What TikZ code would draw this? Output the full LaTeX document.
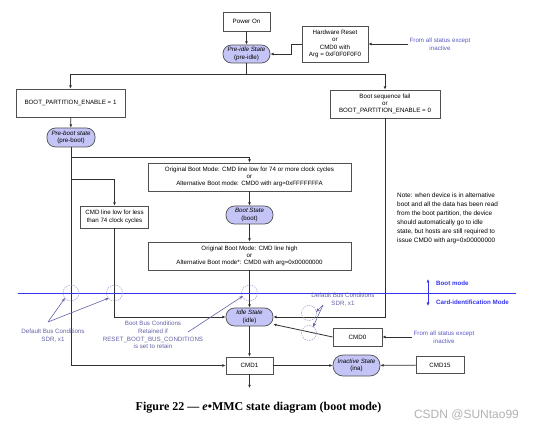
\documentclass[tikz,border=0pt]{standalone}
\usepackage{fontspec}
\setmainfont{Liberation Sans}
\newfontfamily\capfont[Ligatures=TeX]{Liberation Serif}
\usetikzlibrary{arrows.meta}
\definecolor{stfill}{HTML}{C4C4F6}
\definecolor{edgec}{HTML}{505050}
\definecolor{linec}{HTML}{303030}
\definecolor{annc}{HTML}{6464A8}
\definecolor{circc}{HTML}{9A9ACC}
\definecolor{bluel}{HTML}{3535F5}
\definecolor{fromc}{HTML}{5A5AC8}
\tikzset{
  sfont/.style={font=\fontsize{6.2}{7.3}\selectfont},
  box/.style={draw=edgec, fill=white, line width=0.7pt, sfont, align=center, inner sep=0pt},
  stt/.style={draw=edgec, fill=stfill, line width=0.7pt, rounded corners=8.5pt, sfont, align=center, inner sep=0pt},
  arr/.style={draw=linec, line width=0.8pt, -{Latex[length=3.2pt,width=2.8pt]}},
  ln/.style={draw=linec, line width=0.8pt},
  ann/.style={draw=annc, line width=0.6pt, -{Stealth[length=4pt,width=3pt]}},
  anntext/.style={text=annc, font=\fontsize{6.2}{7.8}\selectfont, align=center, inner sep=0pt},
  fromtext/.style={text=fromc, font=\fontsize{6.2}{7.6}\selectfont, align=center, inner sep=0pt},
  dcirc/.style={draw=circc, dashed, dash pattern=on 1.5pt off 1pt, line width=0.5pt},
  modetext/.style={text=bluel, font=\bfseries\fontsize{6.2}{7.4}\selectfont, anchor=west, inner sep=0pt},
}
\begin{document}
\begin{tikzpicture}[x=1pt,y=-1pt]
\useasboundingbox[fill=white] (0,0) rectangle (538,430);

% nodes
\node[box, minimum width=47pt, minimum height=19pt] (power) at (246.5,21.5) {Power On};
\node[stt, minimum width=47pt, minimum height=18pt] (preidle) at (246.5,54) {\textit{Pre-idle State}\\(pre-idle)};
\node[box, minimum width=66pt, minimum height=36pt] (hwreset) at (335,44) {Hardware Reset\\or\\CMD0 with\\Arg = 0xF0F0F0F0};
\node[fromtext] (from1) at (440,44) {From all status except\\inactive};
\node[box, minimum width=109pt, minimum height=28pt] (bpe1) at (70.5,103) {BOOT\_PARTITION\_ENABLE = 1};
\node[box, minimum width=110pt, minimum height=28pt] (bsf) at (385,104) {Boot sequence fail\\or\\BOOT\_PARTITION\_ENABLE = 0};
\node[stt, minimum width=48pt, minimum height=19pt] (preboot) at (71,137.5) {\textit{Pre-boot state}\\(pre-boot)};
\node[box, minimum width=203pt, minimum height=28pt] (obm1) at (249.5,177) {Original Boot Mode: CMD line low for 74 or more clock cycles\\or\\Alternative Boot mode: CMD0 with arg=0xFFFFFFFA};
\node[box, minimum width=68pt, minimum height=22pt] (cmdlow) at (114.5,217) {CMD line low for less\\than 74 clock cycles};
\node[stt, minimum width=47pt, minimum height=18pt] (boot) at (249.5,215) {\textit{Boot State}\\(boot)};
\node[box, minimum width=203pt, minimum height=28pt] (obm2) at (249.5,256) {Original Boot Mode: CMD line high\\or\\Alternative Boot mode*: CMD0 with arg=0x00000000};
\node[stt, minimum width=47pt, minimum height=18pt] (idle) at (249.5,317) {\textit{Idle State}\\(idle)};
\node[box, minimum width=47pt, minimum height=17pt] (cmd1) at (249.5,365.5) {CMD1};
\node[box, minimum width=49pt, minimum height=18pt] (cmd0) at (357.5,337) {CMD0};
\node[fromtext] (from2) at (444,337) {From all status except\\inactive};
\node[stt, minimum width=47pt, minimum height=21pt, rounded corners=10pt] (inact) at (356.5,365.5) {\textit{Inactive State}\\(ina)};
\node[box, minimum width=48pt, minimum height=17pt] (cmd15) at (440,365) {CMD15};

\node[sfont, anchor=north west, align=left, inner sep=0pt, font=\fontsize{6.4}{9}\selectfont] (note) at (397,193) {Note: when device is in alternative\\boot and all the data has been read\\from the boot partition, the device\\should automatically go to idle\\state, but hosts are still required to\\issue CMD0 with arg=0x00000000};

% connectors
\coordinate (j1) at (246.5,74);
\draw[arr] (power) -- (preidle);
\draw[ln] (preidle.south) -- (j1);
\draw[arr] (j1) -| (bpe1.north);
\draw[arr] (j1) -| (bsf.north);
\draw[arr] (hwreset.west) -- ++(-10,0) |- (preidle.east);
\draw[arr] (from1.west) ++(-1,0) -- (hwreset.east);
\draw[arr] (bpe1) -- (preboot);
\coordinate (b1) at (71,157);
\coordinate (b2) at (71,179);
\draw[arr] (preboot.south) |- (cmd1.west);
\draw[arr] (b1) -| (obm1.north);
\draw[arr] (b2) -| (cmdlow.north);
\draw[arr] (obm1) -- (boot);
\draw[arr] (boot) -- (obm2);
\draw[arr] (obm2) -- (idle);
\draw[arr] (cmdlow.south) |- (idle.west);
\draw[arr] (bsf.south) |- (idle.east);
\draw[arr] (idle) -- (cmd1);
\coordinate (cmd1out) at (249.5,388);
\draw[arr] (cmd1.south) -- (cmd1out);
\draw[arr] (cmd0.west) -- (idle.-17);
\draw[arr] (from2.west) ++(-1,0) -- (cmd0.east);
\draw[arr] (cmd1) -- (inact);
\draw[arr] (cmd15) -- (inact);

% mode boundary
\coordinate (bl1) at (18,293);
\coordinate (bl2) at (516,293);
\draw[bluel, line width=0.9pt] (bl1) -- (bl2);
\coordinate (mu) at (428,279);
\coordinate (md) at (428,306);
\draw[bluel, line width=0.6pt, {Latex[length=3.5pt,width=3pt]}-{Latex[length=3.5pt,width=3pt]}] (mu) -- (md);
\node[modetext] (bm) at (436,283.5) {Boot mode};
\node[modetext] (cim) at (436,302) {Card-identification Mode};

% dashed circles
\draw[dcirc] (71,293) circle (8);
\draw[dcirc] (114.5,293) circle (8);
\draw[dcirc] (249.5,293) circle (8);
\draw[dcirc] (309,313) circle (7.5);
\draw[dcirc] (309,333) circle (7.5);

% annotations
\node[anntext] (dbc1) at (53,336) {Default Bus Conditions\\SDR, x1};
\coordinate (a1) at (48,322);
\draw[ann] (a1) -- (65,298);
\draw[ann] (a1) -- (109,298);
\node[anntext] (bbc) at (153,335) {Boot Bus Conditions\\Retained if\\RESET\_BOOT\_BUS\_CONDITIONS\\is set to retain};
\coordinate (a2) at (188,332);
\draw[ann] (a2) -- (243,296);
\node[anntext] (dbc2) at (343,300) {Default Bus Conditions\\SDR, x1};
\coordinate (a3) at (323,305);
\draw[ann] (a3) -- (316,312);
\draw[ann] (a3) -- (313,327);

% caption
\node[font=\capfont\bfseries\fontsize{12}{14}\selectfont, inner sep=0pt] (cap) at (258.5,408) {Figure 22 — \textit{e}•MMC state diagram (boot mode)};
\node[font=\fontsize{12}{14}\selectfont, text=black!30, inner sep=0pt] (wm) at (466.5,415) {CSDN @SUNtao99};
\end{tikzpicture}
\end{document}
